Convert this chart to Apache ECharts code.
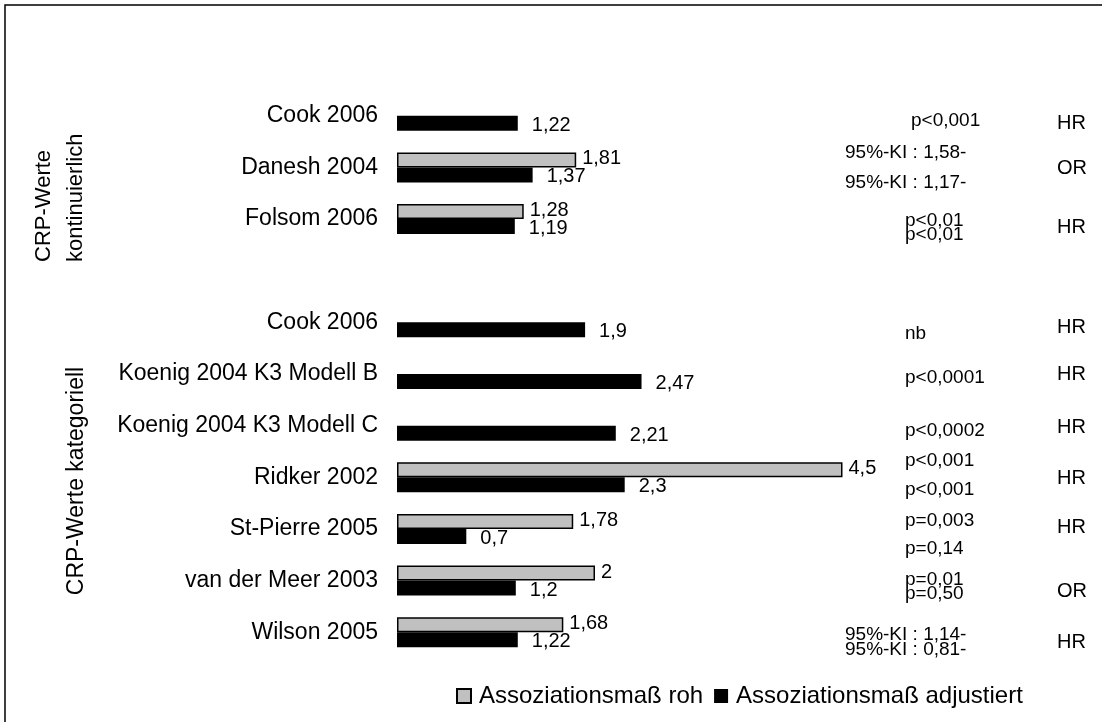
<!DOCTYPE html>
<html>
<head>
<meta charset="utf-8">
<script src="https://cdn.jsdelivr.net/npm/echarts@6/dist/echarts.min.js"></script>
<style>
  html, body { margin: 0; padding: 0; background: #fff; }
  #chart { width: 1102px; height: 722px; }
</style>
</head>
<body>
<div id="chart"></div>
<script>
// Studien (leere Zeile trennt die beiden Gruppen)
const studies = ["Cook 2006", "Danesh 2004", "Folsom 2006", "", "Cook 2006",
  "Koenig 2004 K3 Modell B", "Koenig 2004 K3 Modell C", "Ridker 2002",
  "St-Pierre 2005", "van der Meer 2003", "Wilson 2005"];
const rawValues = ["-", 1.81, 1.28, "-", "-", "-", "-", 4.5, 1.78, 2, 1.68];
const adjValues = [1.22, 1.37, 1.19, "-", 1.9, 2.47, 2.21, 2.3, 0.7, 1.2, 1.22];
const statTop = ["p<0,001", "95%-KI : 1,58-", "p<0,01", "", "nb", "p<0,0001",
  "p<0,0002", "p<0,001", "p=0,003", "p=0,01", "95%-KI : 1,14-"];
const statBottom = ["", "95%-KI : 1,17-", "p<0,01", "", "", "", "",
  "p<0,001", "p=0,14", "p=0,50", "95%-KI : 0,81-"];
const measures = ["HR", "OR", "HR", "", "HR", "HR", "HR", "HR", "HR", "OR", "HR"];

// kleine Verschiebungen der Textspalten rechts (Pixel)
const noteShift = [5, 0, 8.5, 0, 11, 4, 5, -2.5, 5.5, 6.5, 10.5];
const noteLead = [20, 30, 14, 20, 20, 20, 20, 29, 28, 14, 15];
const noteIndent = [6, 0, 0, 0, 0, 0, 0, 0, 0, 0, 0];
const measureShift = [8, 1.5, 8.5, 0, 5, 0, 2, 1.5, -1, 11, 10.5];

const FONT = "Liberation Sans, Arial, sans-serif";
const fmt = (v) => String(v).replace(".", ",");
const vpad = (s, left) => (s > 0 ? [2 * s, 0, 0, left || 0] : [0, 0, -2 * s, left || 0]);

const isKI = (i) => statTop[i].indexOf("95%") === 0;
const noteText = (i) => {
  const lines = statBottom[i] ? [statTop[i], statBottom[i]] : [statTop[i]];
  return lines.map((t) => "{n" + i + "|" + t + "}").join("\n");
};
const noteRich = {};
const measureRich = {};
studies.forEach((s, i) => {
  noteRich["n" + i] = {
    fontSize: 19, fontFamily: FONT, color: "#000",
    lineHeight: noteLead[i], padding: vpad(noteShift[i], noteIndent[i]),
  };
  measureRich["m" + i] = {
    fontSize: 20, fontFamily: FONT, color: "#000",
    lineHeight: 22, padding: vpad(measureShift[i]),
  };
});
const catIdx = studies.map((s, i) => String(i));

const mChart = echarts.init(document.getElementById("chart"));

const options = {
  animation: false,
  backgroundColor: "#fff",
  textStyle: { fontFamily: FONT },
  grid: { left: 397, right: 210, top: 90, bottom: 64, outerBoundsMode: "none" },
  legend: {
    left: 451,
    top: 679,
    itemWidth: 14,
    itemHeight: 14,
    itemGap: 11,
    icon: "rect",
    textStyle: { fontSize: 24, color: "#000", fontFamily: FONT, padding: [0, 0, 0, 3] },
  },
  xAxis: { type: "value", min: 0, max: 5, show: false },
  yAxis: [
    {
      type: "category",
      inverse: true,
      data: studies,
      axisLine: { show: false },
      axisTick: { show: false },
      axisLabel: { margin: 19, fontSize: 23, color: "#000", fontFamily: FONT },
    },
    {
      // p-Werte
      type: "category",
      inverse: true,
      position: "right",
      offset: 0,
      data: catIdx,
      axisLine: { show: false },
      axisTick: { show: false },
      axisLabel: {
        margin: 13,
        rich: noteRich,
        formatter: (v) => (isKI(+v) || !statTop[+v] ? "" : noteText(+v)),
      },
    },
    {
      // 95%-KI
      type: "category",
      inverse: true,
      position: "right",
      offset: -47,
      data: catIdx,
      axisLine: { show: false },
      axisTick: { show: false },
      axisLabel: {
        margin: 0,
        rich: noteRich,
        formatter: (v) => (isKI(+v) ? noteText(+v) : ""),
      },
    },
    {
      // HR / OR
      type: "category",
      inverse: true,
      position: "right",
      offset: 165,
      data: catIdx,
      axisLine: { show: false },
      axisTick: { show: false },
      axisLabel: {
        margin: 0,
        rich: measureRich,
        formatter: (v) => (measures[+v] ? "{m" + v + "|" + measures[+v] + "}" : ""),
      },
    },
  ],
  series: [
    {
      name: "Assoziationsmaß roh",
      type: "bar",
      data: rawValues,
      barWidth: 15,
      barGap: "0%",
      itemStyle: { color: "#c0c0c0", borderColor: "#000", borderWidth: 1.5 },
      label: {
        show: true,
        position: "right",
        distance: 6,
        offset: [0, -1],
        fontSize: 20,
        color: "#000",
        fontFamily: FONT,
        formatter: (p) => fmt(p.value),
      },
    },
    {
      name: "Assoziationsmaß adjustiert",
      type: "bar",
      data: adjValues,
      barWidth: 15,
      barGap: "0%",
      itemStyle: { color: "#000" },
      label: {
        show: true,
        position: "right",
        distance: 14,
        offset: [0, 2],
        fontSize: 20,
        color: "#000",
        fontFamily: FONT,
        formatter: (p) => fmt(p.value),
      },
    },
  ],
  graphic: [
    {
      type: "rect",
      shape: { x: 5, y: 5, width: 1300, height: 900 },
      style: { fill: "none", stroke: "#000", lineWidth: 1.5 },
      silent: true,
    },
    {
      type: "text",
      x: 60,
      y: 262,
      rotation: Math.PI / 2,
      style: {
        text: "CRP-Werte\nkontinuierlich",
        font: "22px " + FONT,
        lineHeight: 32,
        fill: "#000",
        align: "left",
        verticalAlign: "middle",
      },
    },
    {
      type: "text",
      x: 77,
      y: 481,
      rotation: Math.PI / 2,
      style: {
        text: "CRP-Werte kategoriell",
        font: "23px " + FONT,
        fill: "#000",
        align: "center",
        verticalAlign: "middle",
      },
    },
  ],
};
mChart.setOption(options);
</script>
</body>
</html>
